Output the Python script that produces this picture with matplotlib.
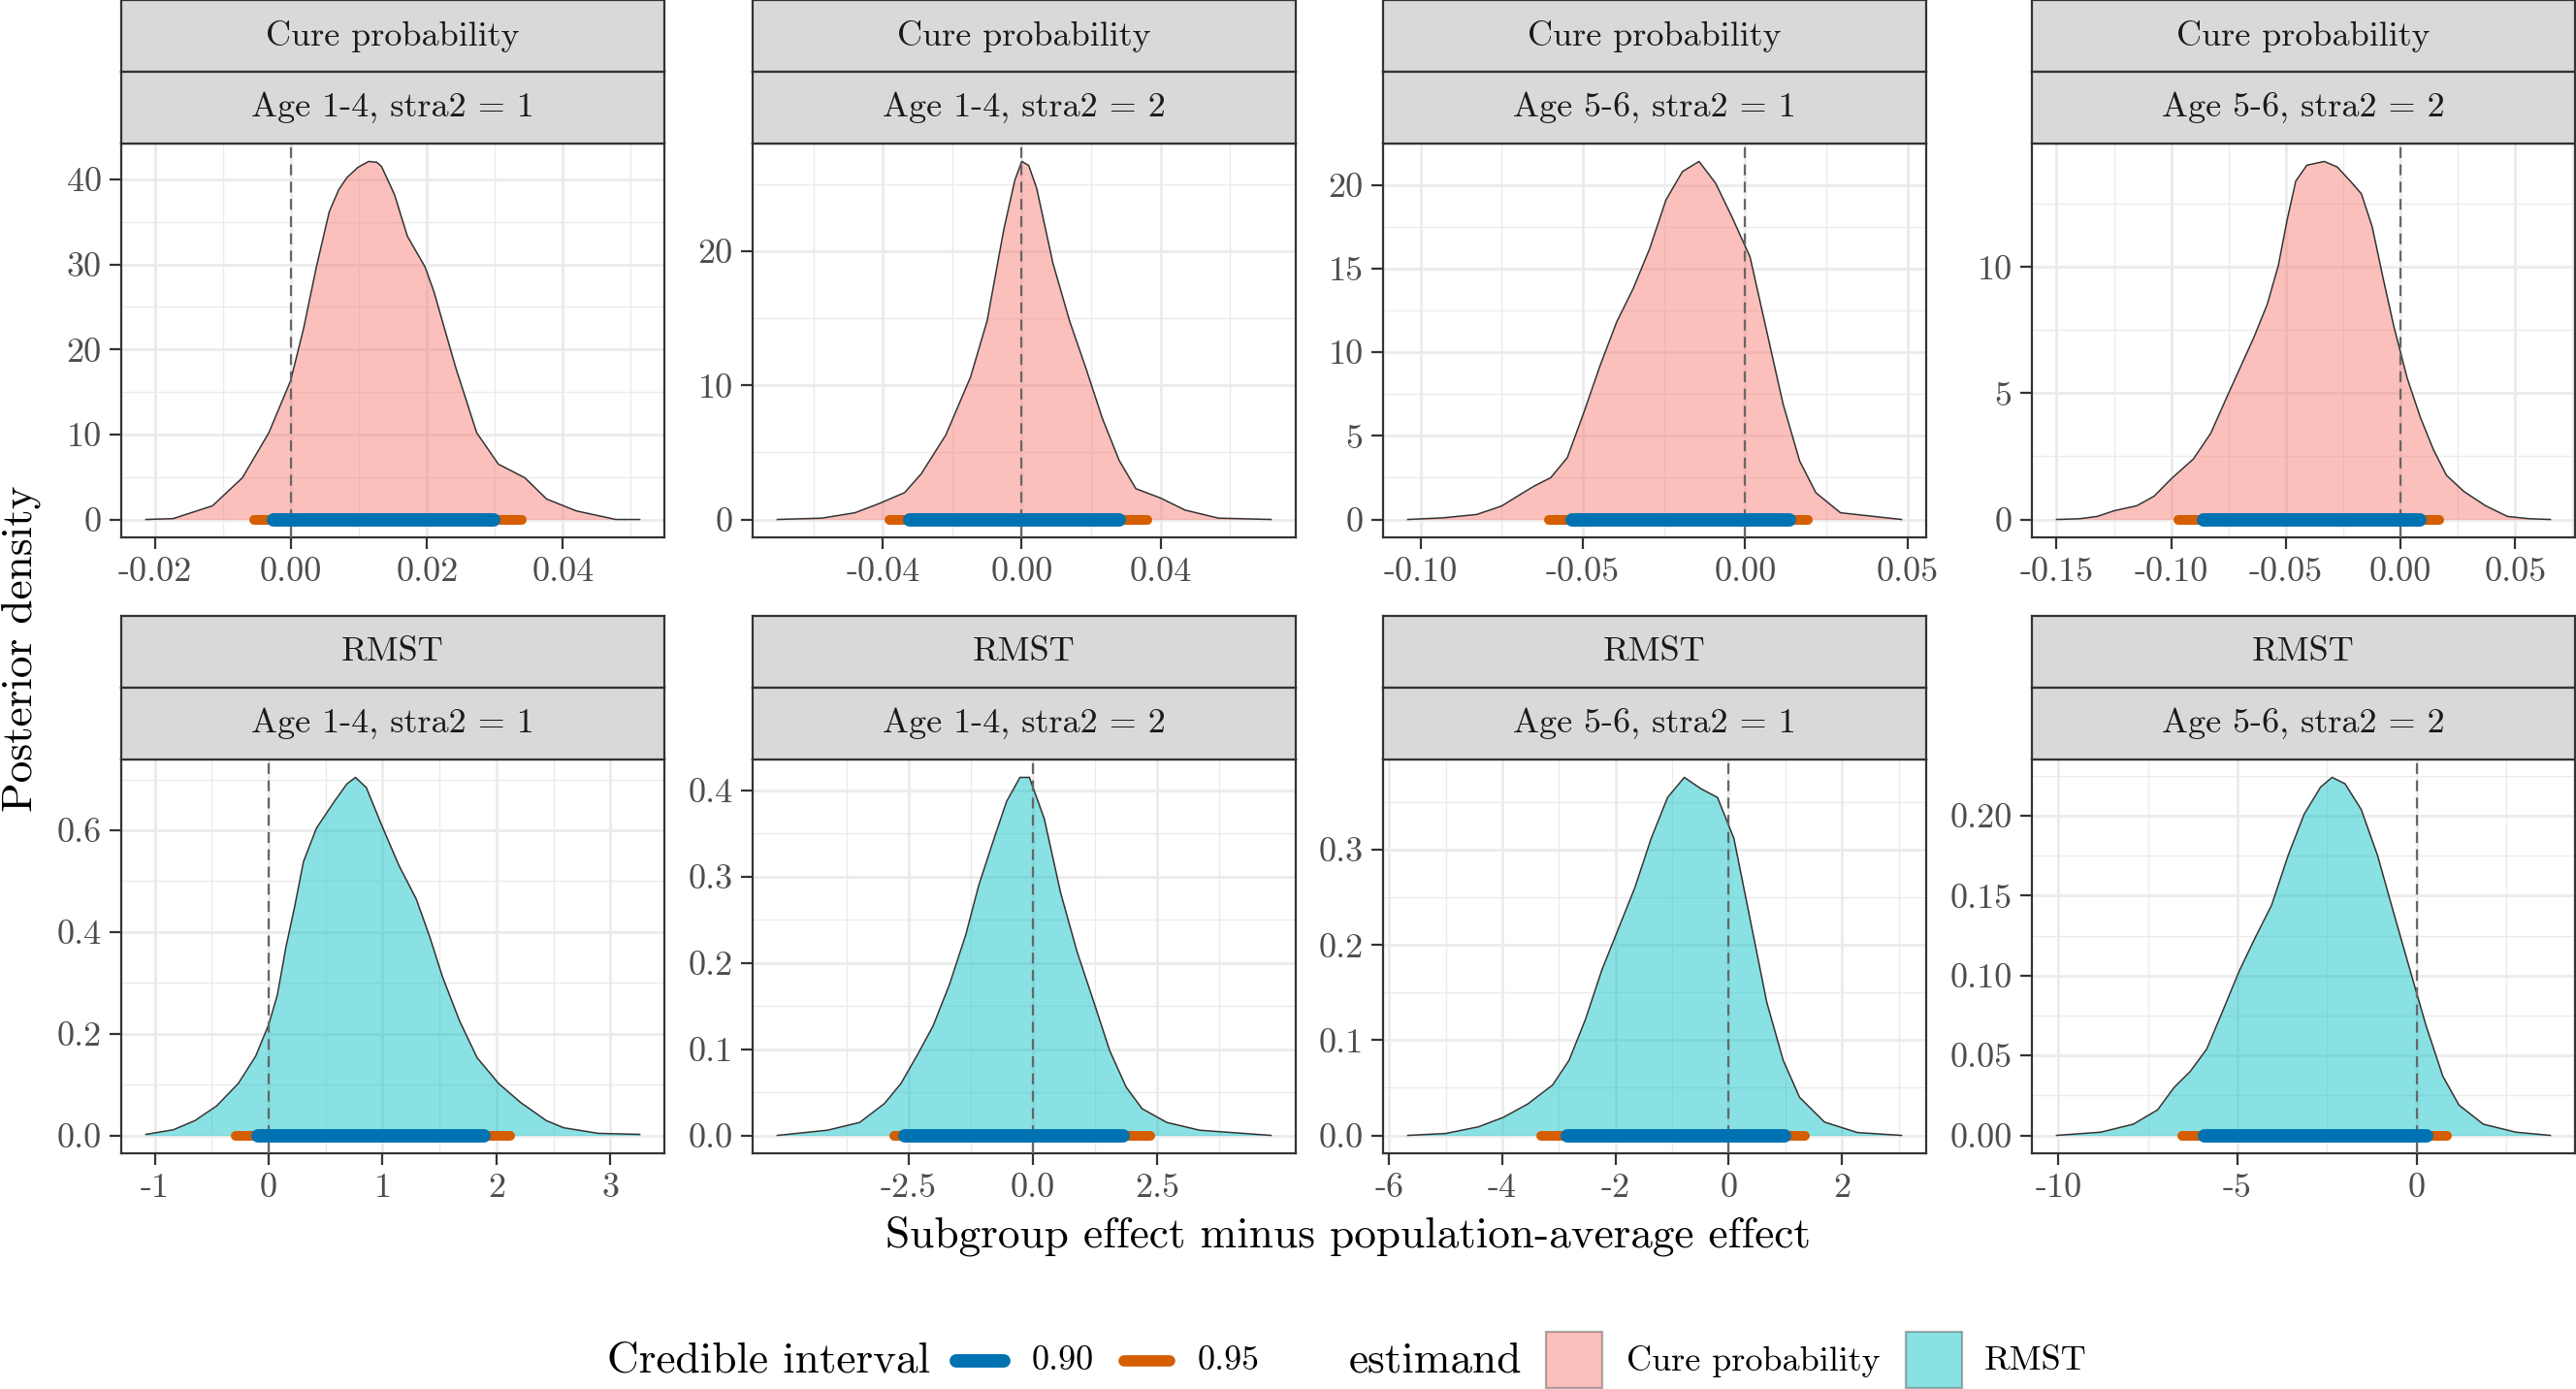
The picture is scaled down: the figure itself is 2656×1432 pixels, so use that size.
import numpy as np
import matplotlib.pyplot as plt
from matplotlib.lines import Line2D
from matplotlib.patches import Rectangle

plt.rcParams['font.family'] = ['cmr10', 'DejaVu Serif']
plt.rcParams['axes.unicode_minus'] = False

W, H, DPI = 2656, 1432, 200

# facet labels
estimands = ["Cure probability"] * 4 + ["RMST"] * 4
subgroups = ["Age 1-4, stra2 = 1", "Age 1-4, stra2 = 2",
             "Age 5-6, stra2 = 1", "Age 5-6, stra2 = 2"] * 2

# posterior density curves
cure_a14_s1_x = [-0.0214, -0.0174, -0.0116, -0.0072, -0.0033, -0.0001, 0.0018, 0.0037, 0.0056, 0.0070,
                 0.0082, 0.0098, 0.0114, 0.0126, 0.0133, 0.0152, 0.0171, 0.0197, 0.0210, 0.0242,
                 0.0273, 0.0305, 0.0344, 0.0376, 0.0420, 0.0478, 0.0513]
cure_a14_s1_y = [0.0, 0.1, 1.6, 4.9, 10.2, 16.3, 22.4, 29.7, 36.2, 38.8,
                 40.2, 41.4, 42.1, 42.0, 41.5, 38.2, 33.3, 29.7, 26.8, 17.9,
                 10.2, 6.5, 4.9, 2.4, 1.0, 0.0, 0.0]

cure_a14_s2_x = [-0.0705, -0.0576, -0.0481, -0.041, -0.0338, -0.029, -0.0219, -0.0148, -0.010, -0.0052,
                 -0.0020, 0.000, 0.0020, 0.0043, 0.009, 0.0138, 0.0186, 0.0233, 0.0281, 0.0329,
                 0.040, 0.0471, 0.0567, 0.0719]
cure_a14_s2_y = [0.0, 0.1, 0.5, 1.2, 2.0, 3.4, 6.3, 10.6, 14.8, 21.6,
                 25.3, 26.7, 26.4, 24.7, 19.1, 14.8, 11.2, 7.5, 4.4, 2.3,
                 1.6, 0.7, 0.1, 0.0]

cure_a56_s1_x = [-0.104, -0.0929, -0.0827, -0.0751, -0.0701, -0.0650, -0.0599, -0.0548, -0.0497, -0.0447,
                 -0.0396, -0.0345, -0.0294, -0.0244, -0.0193, -0.0142, -0.0091, -0.0041, 0.0015, 0.0066,
                 0.0117, 0.0168, 0.0218, 0.0294, 0.0482]
cure_a56_s1_y = [0.0, 0.1, 0.3, 0.8, 1.4, 2.0, 2.5, 3.7, 6.4, 9.2,
                 11.8, 13.8, 16.2, 19.1, 20.8, 21.4, 20.1, 18.1, 15.7, 11.3,
                 6.9, 3.5, 1.6, 0.4, 0.0]

cure_a56_s2_x = [-0.150, -0.1399, -0.1323, -0.1247, -0.1151, -0.1075, -0.0999, -0.0904, -0.0828, -0.0752,
                 -0.0695, -0.0638, -0.0581, -0.0533, -0.0495, -0.0457, -0.0409, -0.0333, -0.0276, -0.0219,
                 -0.0171, -0.0124, -0.0076, -0.0029, 0.0029, 0.0086, 0.0143, 0.0200, 0.0276, 0.0371,
                 0.0466, 0.0561, 0.0653]
cure_a56_s2_y = [0.0, 0.03, 0.12, 0.35, 0.54, 0.92, 1.62, 2.39, 3.41, 4.96,
                 6.1, 7.25, 8.53, 10.06, 11.85, 13.4, 14.03, 14.18, 13.96, 13.4,
                 12.9, 11.6, 9.55, 7.63, 5.59, 4.05, 2.77, 1.75, 1.11, 0.54,
                 0.12, 0.03, 0.0]

rmst_a14_s1_x = [-1.078, -0.838, -0.648, -0.457, -0.267, -0.114, 0.0, 0.076, 0.152, 0.229,
                 0.305, 0.419, 0.571, 0.686, 0.762, 0.857, 0.990, 1.143, 1.295, 1.410,
                 1.524, 1.676, 1.829, 2.019, 2.210, 2.438, 2.590, 2.895, 3.257]
rmst_a14_s1_y = [0.002, 0.011, 0.029, 0.058, 0.102, 0.156, 0.218, 0.276, 0.371, 0.451,
                 0.538, 0.604, 0.655, 0.691, 0.704, 0.684, 0.611, 0.531, 0.465, 0.393,
                 0.313, 0.225, 0.153, 0.102, 0.065, 0.029, 0.015, 0.004, 0.002]

rmst_a14_s2_x = [-5.15, -4.14, -3.49, -2.99, -2.66, -2.34, -2.01, -1.68, -1.35, -1.09,
                 -0.76, -0.53, -0.26, -0.07, 0.23, 0.56, 0.89, 1.22, 1.55, 1.88,
                 2.20, 2.70, 3.36, 4.80]
rmst_a14_s2_y = [0.0, 0.006, 0.015, 0.037, 0.06, 0.092, 0.127, 0.175, 0.233, 0.29,
                 0.348, 0.387, 0.415, 0.415, 0.367, 0.281, 0.213, 0.156, 0.098, 0.056,
                 0.031, 0.015, 0.006, 0.0]

rmst_a56_s1_x = [-5.67, -5.0, -4.42, -3.98, -3.55, -3.11, -2.82, -2.53, -2.24, -1.95,
                 -1.66, -1.37, -1.08, -0.785, -0.49, -0.20, 0.09, 0.38, 0.67, 0.96,
                 1.25, 1.69, 2.27, 3.05]
rmst_a56_s1_y = [0.0, 0.002, 0.009, 0.019, 0.033, 0.053, 0.079, 0.122, 0.174, 0.217,
                 0.260, 0.312, 0.355, 0.376, 0.364, 0.355, 0.312, 0.226, 0.140, 0.079,
                 0.040, 0.014, 0.003, 0.0]

rmst_a56_s2_x = [-10.05, -8.82, -7.91, -7.23, -6.77, -6.32, -5.86, -5.41, -4.95, -4.50,
                 -4.05, -3.59, -3.14, -2.68, -2.36, -2.0, -1.55, -1.09, -0.64, -0.18,
                 0.27, 0.73, 1.18, 1.86, 2.77, 3.73]
rmst_a56_s2_y = [0.0, 0.002, 0.007, 0.016, 0.030, 0.040, 0.054, 0.078, 0.103, 0.124,
                 0.144, 0.175, 0.201, 0.218, 0.224, 0.220, 0.204, 0.175, 0.139, 0.103,
                 0.068, 0.037, 0.019, 0.007, 0.002, 0.0]

dens_x = [cure_a14_s1_x, cure_a14_s2_x, cure_a56_s1_x, cure_a56_s2_x,
          rmst_a14_s1_x, rmst_a14_s2_x, rmst_a56_s1_x, rmst_a56_s2_x]
dens_y = [cure_a14_s1_y, cure_a14_s2_y, cure_a56_s1_y, cure_a56_s2_y,
          rmst_a14_s1_y, rmst_a14_s2_y, rmst_a56_s1_y, rmst_a56_s2_y]

# credible intervals (lower, upper)
ci90 = [(-0.0026, 0.0298), (-0.0324, 0.0281), (-0.0533, 0.0137), (-0.0860, 0.0084),
        (-0.091, 1.893), (-2.57, 1.81), (-2.85, 0.99), (-5.91, 0.27)]
ci95 = [(-0.0055, 0.0340), (-0.0381, 0.0362), (-0.0604, 0.0193), (-0.0969, 0.0169),
        (-0.29, 2.118), (-2.80, 2.37), (-3.31, 1.34), (-6.55, 0.84)]

# axis ticks
x_ticks = [[-0.02, 0.0, 0.02, 0.04], [-0.04, 0.0, 0.04], [-0.10, -0.05, 0.0, 0.05],
           [-0.15, -0.10, -0.05, 0.0, 0.05], [-1, 0, 1, 2, 3], [-2.5, 0.0, 2.5],
           [-6, -4, -2, 0, 2], [-10, -5, 0]]
x_labels = [["-0.02", "0.00", "0.02", "0.04"], ["-0.04", "0.00", "0.04"],
            ["-0.10", "-0.05", "0.00", "0.05"], ["-0.15", "-0.10", "-0.05", "0.00", "0.05"],
            ["-1", "0", "1", "2", "3"], ["-2.5", "0.0", "2.5"],
            ["-6", "-4", "-2", "0", "2"], ["-10", "-5", "0"]]
y_ticks = [[0, 10, 20, 30, 40], [0, 10, 20], [0, 5, 10, 15, 20], [0, 5, 10],
           [0.0, 0.2, 0.4, 0.6], [0.0, 0.1, 0.2, 0.3, 0.4], [0.0, 0.1, 0.2, 0.3],
           [0.00, 0.05, 0.10, 0.15, 0.20]]
y_labels = [["0", "10", "20", "30", "40"], ["0", "10", "20"], ["0", "5", "10", "15", "20"],
            ["0", "5", "10"], ["0.0", "0.2", "0.4", "0.6"], ["0.0", "0.1", "0.2", "0.3", "0.4"],
            ["0.0", "0.1", "0.2", "0.3"], ["0.00", "0.05", "0.10", "0.15", "0.20"]]

fill_colors = {"Cure probability": "#F8766D", "RMST": "#00BFC4"}
ci_colors = {"0.90": "#0072B2", "0.95": "#D55E00"}

# layout in pixels
COL_LEFT = [125, 776, 1426, 2095]
ROW_TOP = [148, 783]
PANEL_W, PANEL_H, STRIP_H = 560, 406, 74
BORDER = "#333333"
SMALL, BIG = 13, 16.3

fig = plt.figure(figsize=(W / DPI, H / DPI), dpi=DPI)


def px_axes(x0, y0, w, h):
    return fig.add_axes([x0 / W, 1 - (y0 + h) / H, w / W, h / H])


def minor_breaks(major, lo, hi):
    step = major[1] - major[0]
    m = np.arange(major[0] - step / 2, major[-1] + step, step)
    return m[(m > lo) & (m < hi)]


for i in range(8):
    row, col = divmod(i, 4)
    top = ROW_TOP[row]
    ax = px_axes(COL_LEFT[col], top, PANEL_W, PANEL_H)
    x = np.array(dens_x[i])
    y = np.array(dens_y[i])

    ax.fill_between(x, 0, y, color=fill_colors[estimands[i]], alpha=0.46, lw=0, zorder=2)
    ax.plot(x, y, color="#333333", lw=0.55, zorder=3)
    ax.axvline(0, color="#666666", lw=0.8, ls=(0, (5, 3)), zorder=4)
    ax.plot(ci95[i], [0, 0], color=ci_colors["0.95"], lw=3.6, solid_capstyle="round", zorder=5)
    ax.plot(ci90[i], [0, 0], color=ci_colors["0.90"], lw=5.0, solid_capstyle="round", zorder=6)

    pad = 0.05 * (x.max() - x.min())
    xlo, xhi = x.min() - pad, x.max() + pad
    ylo, yhi = -0.05 * y.max(), 1.05 * y.max()
    ax.set_xlim(xlo, xhi)
    ax.set_ylim(ylo, yhi)
    ax.set_xticks(x_ticks[i])
    ax.set_xticklabels(x_labels[i])
    ax.set_yticks(y_ticks[i])
    ax.set_yticklabels(y_labels[i])
    ax.set_xticks(minor_breaks(x_ticks[i], xlo, xhi), minor=True)
    ax.set_yticks(minor_breaks(y_ticks[i], ylo, yhi), minor=True)
    ax.grid(which="major", color="#EBEBEB", lw=1.0, zorder=0)
    ax.grid(which="minor", color="#EBEBEB", lw=0.5, zorder=0)
    ax.set_axisbelow(True)
    ax.tick_params(which="minor", length=0)
    ax.tick_params(which="major", length=4.3, width=0.8, color=BORDER,
                   labelcolor="#4D4D4D", labelsize=SMALL, pad=3)
    for s in ax.spines.values():
        s.set_color(BORDER)
        s.set_linewidth(0.8)

    # facet strips
    for k, txt in enumerate([estimands[i], subgroups[i]]):
        sax = px_axes(COL_LEFT[col], top - STRIP_H * (2 - k), PANEL_W, STRIP_H)
        sax.set_facecolor("#D9D9D9")
        sax.set_xticks([])
        sax.set_yticks([])
        for s in sax.spines.values():
            s.set_color(BORDER)
            s.set_linewidth(0.8)
        sax.text(0.5, 0.5, txt, ha="center", va="center", fontsize=SMALL,
                 color="#1A1A1A", transform=sax.transAxes)

fig.text(1390 / W, 1 - 1274 / H, "Subgroup effect minus population-average effect",
         ha="center", va="center", fontsize=BIG)
fig.text(22 / W, 1 - 669 / H, "Posterior density", rotation=90,
         ha="center", va="center", fontsize=BIG)

# legend, drawn by hand to mimic the ggplot layout
ly = 1 - 1403 / H
fig.text(959 / W, ly, "Credible interval", ha="right", va="center", fontsize=BIG)
for (x0, x1, xt), (lab, c), lw in zip([(986, 1035, 1064), (1159, 1206, 1235)],
                                      ci_colors.items(), [5.0, 4.2]):
    fig.add_artist(Line2D([x0 / W, x1 / W], [ly, ly], color=c, lw=lw, solid_capstyle="round"))
    fig.text(xt / W, ly, lab, ha="left", va="center", fontsize=SMALL)

fig.text(1391 / W, ly, "estimand", ha="left", va="center", fontsize=BIG)
for (bx, tx), (lab, c) in zip([(1594, 1677), (1965, 2046)], fill_colors.items()):
    fig.add_artist(Rectangle((bx / W, 1 - 1431 / H), 58 / W, 58 / H, facecolor=c, alpha=0.46,
                             edgecolor="#555555", lw=0.8))
    fig.text(tx / W, ly, lab, ha="left", va="center", fontsize=SMALL)

fig.savefig("out.png", dpi=DPI)
